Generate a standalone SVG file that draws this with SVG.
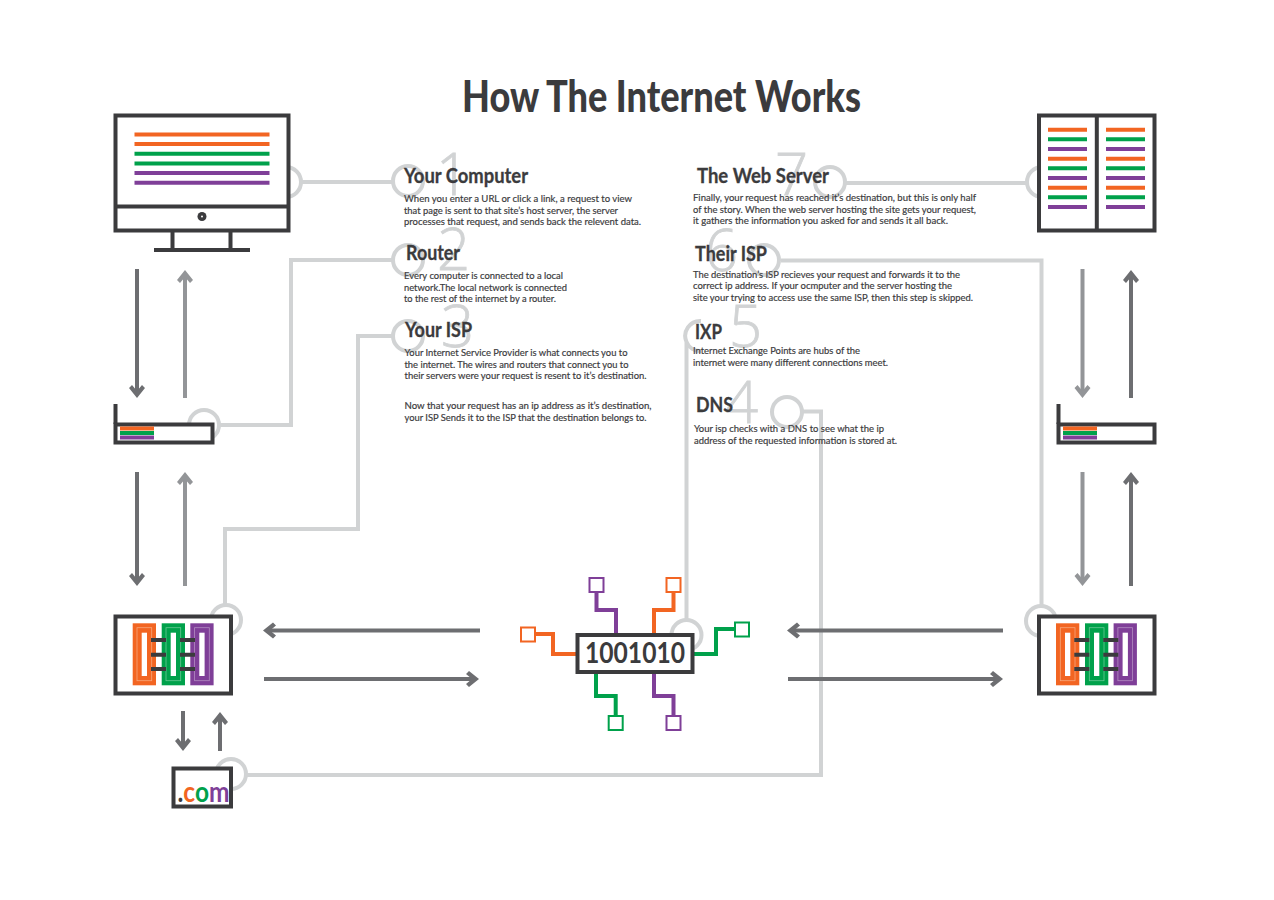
<svg xmlns="http://www.w3.org/2000/svg" width="1274" height="900" viewBox="0 0 1274 900">
<style>
text{font-family:"Lato","Liberation Sans",sans-serif;fill:#3b3b3d}
.t{font-size:44px;font-weight:900}
.h{font-size:20px;font-weight:700;stroke:#3b3b3d;stroke-width:.3}
.b{font-size:9.6px;font-weight:400;stroke:#3b3b3d;stroke-width:.18}
.n{font-family:"Open Sans","Liberation Sans",sans-serif;font-size:58px;font-weight:300;fill:#d1d3d4;stroke:#d1d3d4;stroke-width:.8}
.c{fill:none;stroke:#d1d3d4;stroke-width:4}
.k{fill:#fff;stroke:#3b3b3d;stroke-width:4}
.kl{fill:none;stroke:#3b3b3d;stroke-width:4}
.o{stroke:#f26522}.g{stroke:#00a14b}.p{stroke:#7f3f98}
.l{fill:none;stroke-width:4}
.s{fill:#fff;stroke-width:2}
.a1{fill:none;stroke:#6d6e71;stroke-width:4;marker-end:url(#h1)}
.a2{fill:none;stroke:#939598;stroke-width:4;marker-end:url(#h2)}
</style>
<defs>
<marker id="h1" markerUnits="userSpaceOnUse" markerWidth="16" markerHeight="18" refX="11" refY="9" orient="auto"><path d="M14 9L4 17L1 14L7 9L1 4L4 1Z" fill="#6d6e71"/></marker>
<marker id="h2" markerUnits="userSpaceOnUse" markerWidth="16" markerHeight="18" refX="11" refY="9" orient="auto"><path d="M14 9L4 17L1 14L7 9L1 4L4 1Z" fill="#939598"/></marker>
<g id="isp-bars">
<rect x="132.700" y="623.300" width="23.300" height="62" fill="#f26522"/><rect x="137" y="627.700" width="14.700" height="53" fill="none" stroke="#f7a67a" stroke-width=".8"/><rect x="141.700" y="632.700" width="5.300" height="43.300" fill="#fff"/>
<rect x="161.700" y="623.300" width="23.300" height="62" fill="#00a14b"/><rect x="166" y="627.700" width="14.700" height="53" fill="none" stroke="#66c793" stroke-width=".8"/><rect x="170.700" y="632.700" width="5.300" height="43.300" fill="#fff"/>
<rect x="190.300" y="623.300" width="23.300" height="62" fill="#7f3f98"/><rect x="194.600" y="627.700" width="14.700" height="53" fill="none" stroke="#b28cc1" stroke-width=".8"/><rect x="199.300" y="632.700" width="5.300" height="43.300" fill="#fff"/>
<path d="M151 640H166M151 654.700H166M151 669H166M180 640H195M180 654.700H195M180 669H195" stroke="#3b3b3d" stroke-width="4" fill="none"/>
</g>
</defs>
<g id="connectors">
<circle class="c" cx="286" cy="182" r="15"/><path class="c" d="M301 182H393"/><circle class="c" cx="408" cy="181" r="15"/>
<circle class="c" cx="204" cy="425" r="15"/><path class="c" d="M219 425H291V260H393"/><circle class="c" cx="408" cy="260" r="15"/>
<circle class="c" cx="226" cy="620" r="15"/><path class="c" d="M225 605V529H358V336H393"/><circle class="c" cx="408" cy="336" r="15"/>
<circle class="c" cx="231" cy="774" r="15"/><path class="c" d="M246 775H821V411.500H802"/><circle class="c" cx="787" cy="412" r="15"/>
<circle class="c" cx="686.500" cy="635" r="15"/><path class="c" d="M686.500 620V342A15 15 0 0 1 701 321M686.500 342A15 15 0 0 0 701 351"/>
<circle class="c" cx="1041" cy="621" r="15"/><path class="c" d="M1041.500 606V260.500H781"/><circle class="c" cx="764" cy="260" r="15"/>
<circle class="c" cx="1042" cy="182" r="15"/><path class="c" d="M1027 183H845"/><circle class="c" cx="830" cy="182" r="15"/>
<path class="a1" d="M137 269V395"/><path class="a2" d="M185 398V273"/>
<path class="a1" d="M137 472V583"/><path class="a2" d="M185 586V475"/>
<path class="a2" d="M1082.500 269V395"/><path class="a1" d="M1131 398V273"/>
<path class="a2" d="M1082.500 472V583"/><path class="a1" d="M1131 586V475"/>
<path class="a1" d="M183 711V748"/><path class="a1" d="M220 751V715"/>
<path class="a1" d="M480 630.500H266"/><path class="a1" d="M264 679H476"/>
<path class="a1" d="M1003 630.500H790"/><path class="a1" d="M788 679H1000"/>
</g>
<text class="t" x="462" y="112" textLength="399" lengthAdjust="spacingAndGlyphs">How The Internet Works</text>
<g id="computer">
<rect class="k" x="115.500" y="115.500" width="173" height="115"/><path class="kl" d="M115 206.500H289M172.500 232V250M230.500 232V250M154 250H250"/>
<circle cx="202" cy="216.500" r="4.500" fill="#3b3b3d"/><circle cx="202" cy="216.500" r="1" fill="#fff"/>
<path class="l o" d="M134.500 134.500H269.500M134.500 144H269.500"/><path class="l g" d="M134.500 153.800H269.500M134.500 163.400H269.500"/><path class="l p" d="M134.500 173H269.500M134.500 182.700H269.500"/>
</g>
<g id="router-left">
<path class="kl" d="M115.500 404V424"/><rect class="k" x="115.500" y="424.500" width="97" height="18"/>
<path class="l o" d="M120 428.500H154"/><path class="l g" d="M120 433H154"/><path class="l p" d="M120 437.500H154"/>
</g>
<g id="isp-left"><rect class="k" x="115.500" y="616.500" width="115.500" height="77"/><use href="#isp-bars"/></g>
<g id="dns-com"><rect class="k" x="173.500" y="768.500" width="57.500" height="38"/>
<text x="177.500" y="802" font-size="28" font-weight="700" textLength="52" lengthAdjust="spacingAndGlyphs"><tspan>.</tspan><tspan style="fill:#f26522">c</tspan><tspan style="fill:#00a14b">o</tspan><tspan style="fill:#7f3f98">m</tspan></text></g>
<g id="ixp">
<path class="l o" d="M535 634H553V654H576"/><path class="l p" d="M596.500 592V610H616V633"/><path class="l o" d="M673.500 592V610H654V633"/><path class="l g" d="M734 629H716V654H694"/><path class="l g" d="M596 674V696H615.700V715"/><path class="l p" d="M654 674V696H673.500V715"/>
<rect class="s o" x="521" y="627.500" width="14" height="14"/><rect class="s p" x="589.500" y="578" width="14" height="14"/><rect class="s o" x="666.500" y="578" width="14" height="14"/><rect class="s g" x="735" y="622.500" width="14" height="14"/><rect class="s g" x="608.700" y="716" width="14" height="14"/><rect class="s p" x="666.500" y="716" width="14" height="14"/>
<rect class="k" x="577.500" y="635" width="115" height="37"/>
<text x="585" y="663" font-size="28" font-weight="700" textLength="100" lengthAdjust="spacingAndGlyphs">1001010</text>
</g>
<g id="isp-right"><rect class="k" x="1039" y="616.500" width="115.500" height="77"/><use href="#isp-bars" transform="translate(923.300 0)"/></g>
<g id="router-right">
<path class="kl" d="M1058.500 404V424"/><rect class="k" x="1058.500" y="424.500" width="96" height="18"/>
<path class="l o" d="M1063 428.500H1097"/><path class="l g" d="M1063 433H1097"/><path class="l p" d="M1063 437.500H1097"/>
</g>
<g id="server">
<rect class="k" x="1039" y="115.500" width="115.500" height="115"/><path class="kl" d="M1096.800 115V231"/>
<path class="l o" d="M1048 129.700H1087M1106 129.700H1145M1048 158.700H1087M1106 158.700H1145M1048 187.700H1087M1106 187.700H1145"/>
<path class="l g" d="M1048 139.300H1087M1106 139.300H1145M1048 168.300H1087M1106 168.300H1145M1048 197.300H1087M1106 197.300H1145"/>
<path class="l p" d="M1048 149H1087M1106 149H1145M1048 178H1087M1106 178H1145M1048 207H1087M1106 207H1145"/>
</g>
<g id="step-1"><text class="n" x="436" y="195">1</text><text class="h" x="404" y="183" textLength="124" lengthAdjust="spacingAndGlyphs">Your Computer</text>
<text class="b" x="404" y="202" textLength="228" lengthAdjust="spacingAndGlyphs">When you enter a URL or click a link, a request to view</text>
<text class="b" x="404" y="213.500" textLength="214" lengthAdjust="spacingAndGlyphs">that page is sent to that site’s host server, the server</text>
<text class="b" x="404" y="225" textLength="237" lengthAdjust="spacingAndGlyphs">processes that request, and sends back the relevent data.</text></g>
<g id="step-2"><text class="n" x="437" y="270">2</text><text class="h" x="406" y="260" textLength="54" lengthAdjust="spacingAndGlyphs">Router</text>
<text class="b" x="404" y="279" textLength="159" lengthAdjust="spacingAndGlyphs">Every computer is connected to a local</text>
<text class="b" x="404" y="290.500" textLength="163" lengthAdjust="spacingAndGlyphs">network.The local network is connected</text>
<text class="b" x="404" y="302" textLength="152" lengthAdjust="spacingAndGlyphs">to the rest of the internet by a router.</text></g>
<g id="step-3"><text class="n" x="441" y="347">3</text><text class="h" x="405" y="337" textLength="67" lengthAdjust="spacingAndGlyphs">Your ISP</text>
<text class="b" x="404.500" y="356" textLength="223" lengthAdjust="spacingAndGlyphs">Your Internet Service Provider is what connects you to</text>
<text class="b" x="404.500" y="367.500" textLength="224" lengthAdjust="spacingAndGlyphs">the internet. The wires and routers that connect you to</text>
<text class="b" x="404.500" y="379" textLength="242" lengthAdjust="spacingAndGlyphs">their servers were your request is resent to it’s destination.</text>
<text class="b" x="404.500" y="409" textLength="247" lengthAdjust="spacingAndGlyphs">Now that your request has an ip address as it’s destination,</text>
<text class="b" x="404.500" y="420.500" textLength="242" lengthAdjust="spacingAndGlyphs">your ISP Sends it to the ISP that the destination belongs to.</text></g>
<g id="step-7"><text class="n" x="775" y="195">7</text><text class="h" x="697" y="183" textLength="132" lengthAdjust="spacingAndGlyphs">The Web Server</text>
<text class="b" x="693" y="201" textLength="283" lengthAdjust="spacingAndGlyphs">Finally, your request has reached it’s destination, but this is only half</text>
<text class="b" x="693" y="212.500" textLength="283" lengthAdjust="spacingAndGlyphs">of the story. When the web server hosting the site gets your request,</text>
<text class="b" x="693" y="224" textLength="255" lengthAdjust="spacingAndGlyphs">it gathers the information you asked for and sends it all back.</text></g>
<g id="step-6"><text class="n" x="705" y="271">6</text><text class="h" x="695" y="261" textLength="72" lengthAdjust="spacingAndGlyphs">Their ISP</text>
<text class="b" x="693" y="277.500" textLength="267" lengthAdjust="spacingAndGlyphs">The destination’s ISP recieves your request and forwards it to the</text>
<text class="b" x="693" y="289" textLength="259" lengthAdjust="spacingAndGlyphs">correct ip address. If your ocmputer and the server hosting the</text>
<text class="b" x="693" y="300.500" textLength="280" lengthAdjust="spacingAndGlyphs">site your trying to access use the same ISP, then this step is skipped.</text></g>
<g id="step-5"><text class="n" x="729" y="347">5</text><text class="h" x="695" y="339" textLength="27" lengthAdjust="spacingAndGlyphs">IXP</text>
<text class="b" x="693" y="354" textLength="167" lengthAdjust="spacingAndGlyphs">Internet Exchange Points are hubs of the</text>
<text class="b" x="693" y="365.500" textLength="195" lengthAdjust="spacingAndGlyphs">internet were many different connections meet.</text></g>
<g id="step-4"><text class="n" x="725" y="423">4</text><text class="h" x="696" y="412" textLength="37" lengthAdjust="spacingAndGlyphs">DNS</text>
<text class="b" x="694" y="432" textLength="190" lengthAdjust="spacingAndGlyphs">Your isp checks with a DNS to see what the ip</text>
<text class="b" x="694" y="443.500" textLength="203" lengthAdjust="spacingAndGlyphs">address of the requested information is stored at.</text></g>
</svg>
